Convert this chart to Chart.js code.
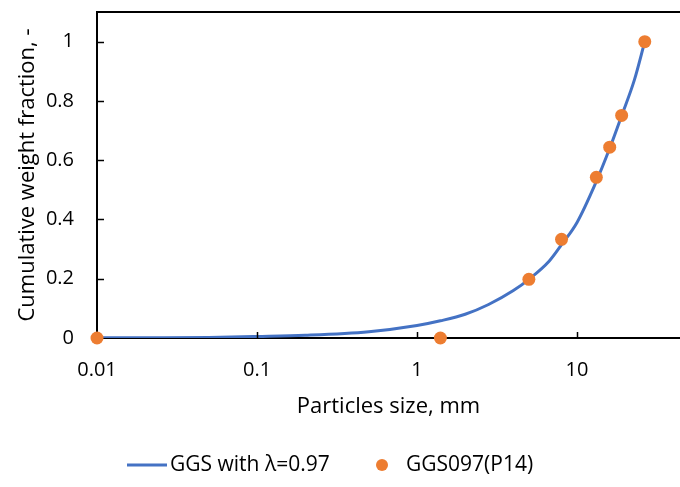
<!DOCTYPE html>
<html>
<head>
<meta charset="utf-8">
<script src="https://cdn.jsdelivr.net/npm/chart.js@4/dist/chart.umd.min.js"></script>
<style>
  html,body{margin:0;padding:0;background:#fff;}
  #wrap{width:680px;height:487px;}
</style>
</head>
<body>
<div id="wrap"><canvas id="chart" width="680" height="487"></canvas></div>
<script>
// ---- data ----
const curveSize     = [0.01, 0.02, 0.05, 0.1, 0.2, 0.5, 1, 1.4, 2, 2.8, 4, 5, 6.71, 8, 10, 13, 16, 19, 22.8, 26.5];
const curveFraction = [0.0005, 0.001, 0.002, 0.005, 0.009, 0.021, 0.042, 0.058, 0.08, 0.113, 0.16, 0.198, 0.26, 0.315, 0.39, 0.52, 0.64, 0.75, 0.87, 1.0];
const sieveSize     = [0.01, 1.4, 5, 8, 13.2, 16, 19, 26.5];
const sieveFraction = [0, 0, 0.198, 0.333, 0.542, 0.644, 0.751, 1.0];
const xTickValues   = [0.01, 0.1, 1, 10];
const xTickLabels   = ['0.01', '0.1', '1', '10'];
const seriesNames   = ['GGS with λ=0.97', 'GGS097(P14)'];

const BLUE = '#4472C4', ORANGE = '#ED7D31';
const FONT = "'Open Sans', sans-serif";
const FS = 20;      // tick labels
const FS_T = 22;    // axis titles
const FS_L = 21;    // legend

// inner tick marks, top frame line, legend row
const extras = {
  id: 'extras',
  afterDraw(chart){
    const {ctx, chartArea: a, scales: {x, y}} = chart;
    ctx.save();
    ctx.strokeStyle = '#000';
    ctx.lineWidth = 1.5;
    y.ticks.forEach(t=>{
      if(t.value === 0) return;
      const py = Math.round(y.getPixelForValue(t.value)) + 0.5;
      ctx.beginPath(); ctx.moveTo(a.left, py); ctx.lineTo(a.left + 7, py); ctx.stroke();
    });
    x.ticks.forEach(t=>{
      if(t.value === xTickValues[0]) return;
      const px = Math.round(x.getPixelForValue(t.value)) + 0.5;
      ctx.beginPath(); ctx.moveTo(px, a.bottom); ctx.lineTo(px, a.bottom - 6); ctx.stroke();
    });
    // plot frame top
    ctx.lineWidth = 2;
    ctx.beginPath(); ctx.moveTo(a.left, a.top); ctx.lineTo(a.right, a.top); ctx.stroke();

    // legend
    const ly = 465;
    ctx.font = FS_L + 'px ' + FONT;
    ctx.fillStyle = '#000';
    ctx.textBaseline = 'middle';
    ctx.strokeStyle = BLUE; ctx.lineWidth = 3;
    ctx.beginPath(); ctx.moveTo(127, ly); ctx.lineTo(167, ly); ctx.stroke();
    ctx.fillText(chart.data.datasets[1].label, 170, ly);
    ctx.fillStyle = ORANGE;
    ctx.beginPath(); ctx.arc(382, ly, 6, 0, Math.PI*2); ctx.fill();
    ctx.fillStyle = '#000';
    ctx.fillText(chart.data.datasets[0].label, 406, ly);
    ctx.restore();
  }
};

new Chart(document.getElementById('chart'), {
  type: 'scatter',
  data: {
    datasets: [
      {
        label: seriesNames[1],
        data: sieveSize.map((s,i)=>({x:s, y:sieveFraction[i]})),
        backgroundColor: ORANGE, borderColor: ORANGE,
        pointRadius: 6.5, pointHoverRadius: 6.5, borderWidth: 0,
        clip: false, order: 0
      },
      {
        label: seriesNames[0],
        type: 'line',
        data: curveSize.map((s,i)=>({x:s, y:curveFraction[i]})),
        borderColor: BLUE, backgroundColor: BLUE,
        borderWidth: 3, pointRadius: 0, cubicInterpolationMode: 'monotone',
        fill: false, order: 1
      }
    ]
  },
  options: {
    responsive: false,
    devicePixelRatio: 1,
    animation: false,
    layout: {autoPadding: false, padding: {top: 12, bottom: 60, left: 0, right: 0}},
    plugins: {legend: {display: false}, tooltip: {enabled: false}},
    scales: {
      x: {
        type: 'logarithmic',
        min: 0.01, max: 44,
        afterBuildTicks: s => { s.ticks = xTickValues.map(v=>({value:v})); },
        afterFit: s => { s.height = 89; s.paddingLeft = 0; s.paddingRight = 0; },
        grid: {display: false},
        border: {display: true, color: '#000', width: 2},
        ticks: {
          color: '#000', font: {family: FONT, size: FS}, padding: 12,
          maxRotation: 0, autoSkip: false,
          callback: (v)=> { const i = xTickValues.indexOf(v); return i >= 0 ? xTickLabels[i] : ''; }
        },
        title: {display: true, text: 'Particles size, mm', color: '#000',
                font: {family: FONT, size: FS_T}, padding: {top: 0, bottom: 7}}
      },
      y: {
        min: 0, max: 1.1,
        afterFit: s => { s.width = 97; s.paddingTop = 0; s.paddingBottom = 0; },
        grid: {display: false},
        border: {display: true, color: '#000', width: 2},
        ticks: {
          stepSize: 0.2, includeBounds: false,
          color: '#000', font: {family: FONT, size: FS}, padding: 15,
          callback: v => Number(v.toFixed(1)).toString()
        },
        title: {display: true, text: 'Cumulative weight fraction, -', color: '#000',
                font: {family: FONT, size: FS_T}, padding: {top: 15, bottom: 0}}
      }
    }
  },
  plugins: [extras]
});
</script>
</body>
</html>
